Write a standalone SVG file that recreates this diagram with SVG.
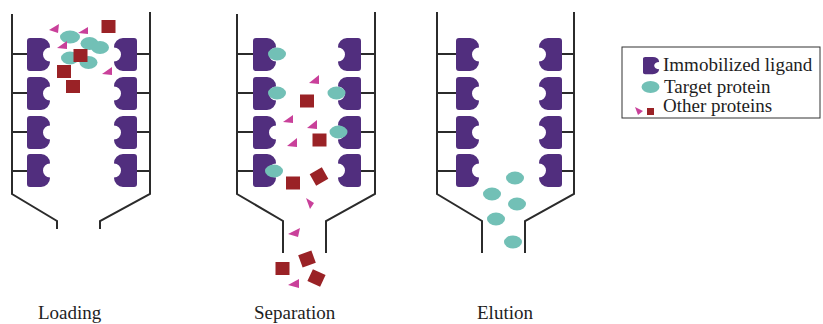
<svg xmlns="http://www.w3.org/2000/svg" xmlns:xlink="http://www.w3.org/1999/xlink" width="823" height="324" viewBox="0 0 823 324">
  <style>
    .wall { fill: none; stroke: #2b2b2b; stroke-width: 2; }
    .lig { fill: #512e7e; }
    .tgt { fill: #72c0b6; }
    .oth { fill: #9a2226; }
    .tri { fill: #c9409a; }
    .txt { font-family: "Liberation Serif", "Times New Roman", serif; font-size: 19px; fill: #1e1e1e; }
  </style>
  <defs>
    <!-- ligand with a round binding notch on its right side -->
    <path id="ligand" class="lig" d="M3,0 H14 A9,9 0 0 1 23,9 V9.5 A7,7 0 0 0 23,23.5 V24 A9,9 0 0 1 14,33 H3 A3,3 0 0 1 0,30 V3 A3,3 0 0 1 3,0 Z"/>
    <rect id="sq" class="oth" x="-7" y="-6.5" width="14" height="13"/>
  </defs>

  <!-- Loading column -->
  <g id="loading">
    <path class="wall" d="M12,14 V194 L57,221 V229 M150,12 V194 L100,221 V229 M12,54 H27 M12,93 H27 M12,132 H27 M12,171 H27 M137,54 H150 M137,93 H150 M137,132 H150 M137,171 H150"/>
    <use xlink:href="#ligand" transform="translate(27,38)"/>
    <use xlink:href="#ligand" transform="translate(27,77)"/>
    <use xlink:href="#ligand" transform="translate(27,116)"/>
    <use xlink:href="#ligand" transform="translate(27,154)"/>
    <use xlink:href="#ligand" transform="translate(137,38) scale(-1,1)"/>
    <use xlink:href="#ligand" transform="translate(137,77) scale(-1,1)"/>
    <use xlink:href="#ligand" transform="translate(137,116) scale(-1,1)"/>
    <use xlink:href="#ligand" transform="translate(137,154) scale(-1,1)"/>
    <ellipse class="tgt" cx="70" cy="37" rx="10" ry="6.5"/>
    <ellipse class="tgt" cx="89.5" cy="43.5" rx="9" ry="6.5"/>
    <ellipse class="tgt" cx="100" cy="47.5" rx="9" ry="6.5"/>
    <ellipse class="tgt" cx="70" cy="58" rx="9" ry="6.5"/>
    <ellipse class="tgt" cx="88.5" cy="62.5" rx="9" ry="6.5"/>
    <use xlink:href="#sq" transform="translate(108.5,26.5)"/>
    <use xlink:href="#sq" transform="translate(80.5,55.5)"/>
    <use xlink:href="#sq" transform="translate(64,71.5)"/>
    <use xlink:href="#sq" transform="translate(73,86.5)"/>
    <polygon class="tri" points="49,30 59,24 58,33"/>
    <polygon class="tri" points="78,33 88,27 88,34"/>
    <polygon class="tri" points="57,48 67,41 67,49"/>
    <polygon class="tri" points="102,74 112,67 112,75"/>
  </g>

  <!-- Separation column -->
  <g id="separation">
    <path class="wall" d="M237,14 V194 L283,221 V253 M375,12 V194 L326,221 V253 M237,54 H253 M237,93 H253 M237,132 H253 M237,171 H253 M361,54 H375 M361,93 H375 M361,132 H375 M361,171 H375"/>
    <use xlink:href="#ligand" transform="translate(253,38)"/>
    <use xlink:href="#ligand" transform="translate(253,77)"/>
    <use xlink:href="#ligand" transform="translate(253,116)"/>
    <use xlink:href="#ligand" transform="translate(253,154)"/>
    <use xlink:href="#ligand" transform="translate(361,38) scale(-1,1)"/>
    <use xlink:href="#ligand" transform="translate(361,77) scale(-1,1)"/>
    <use xlink:href="#ligand" transform="translate(361,116) scale(-1,1)"/>
    <use xlink:href="#ligand" transform="translate(361,154) scale(-1,1)"/>
    <ellipse class="tgt" cx="277" cy="54" rx="9" ry="6.5"/>
    <ellipse class="tgt" cx="277" cy="93" rx="9" ry="6.5"/>
    <ellipse class="tgt" cx="336.5" cy="93" rx="9" ry="6.5"/>
    <ellipse class="tgt" cx="338.5" cy="132" rx="9" ry="6.5"/>
    <ellipse class="tgt" cx="274" cy="171" rx="9" ry="6.5"/>
    <use xlink:href="#sq" transform="translate(307,101)"/>
    <use xlink:href="#sq" transform="translate(319.5,140)"/>
    <use xlink:href="#sq" transform="translate(293,183)"/>
    <use xlink:href="#sq" transform="translate(319,176.5) rotate(-30)"/>
    <use xlink:href="#sq" transform="translate(282.5,268.5)"/>
    <use xlink:href="#sq" transform="translate(307,259) rotate(-20)"/>
    <use xlink:href="#sq" transform="translate(316.5,278) rotate(25)"/>
    <polygon class="tri" points="309,83 319,75 319,84"/>
    <polygon class="tri" points="283,122 293,115 293,123"/>
    <polygon class="tri" points="307,128 317,120 317,129"/>
    <polygon class="tri" points="287,146 297,138 297,147"/>
    <polygon class="tri" points="306,198 314,203 310,209"/>
    <polygon class="tri" points="288,234 300,228 298,237"/>
    <polygon class="tri" points="288,285 299,279 299,288"/>
  </g>

  <!-- Elution column -->
  <g id="elution">
    <path class="wall" d="M437,12 V194 L482,221 V253 M574,12 V194 L525,221 V253 M437,54 H456 M437,93 H456 M437,132 H456 M437,171 H456 M562,54 H574 M562,93 H574 M562,132 H574 M562,171 H574"/>
    <use xlink:href="#ligand" transform="translate(456,38)"/>
    <use xlink:href="#ligand" transform="translate(456,77)"/>
    <use xlink:href="#ligand" transform="translate(456,116)"/>
    <use xlink:href="#ligand" transform="translate(456,154)"/>
    <use xlink:href="#ligand" transform="translate(562,38) scale(-1,1)"/>
    <use xlink:href="#ligand" transform="translate(562,77) scale(-1,1)"/>
    <use xlink:href="#ligand" transform="translate(562,116) scale(-1,1)"/>
    <use xlink:href="#ligand" transform="translate(562,154) scale(-1,1)"/>
    <ellipse class="tgt" cx="515" cy="178" rx="9" ry="6.5"/>
    <ellipse class="tgt" cx="492" cy="194" rx="9" ry="6.5"/>
    <ellipse class="tgt" cx="517" cy="204" rx="9" ry="6.5"/>
    <ellipse class="tgt" cx="496" cy="219" rx="9" ry="6.5"/>
    <ellipse class="tgt" cx="513" cy="242" rx="9" ry="6.5"/>
  </g>

  <!-- Legend -->
  <g id="legend">
    <rect x="622" y="47" width="198" height="71" fill="#fff" stroke="#333" stroke-width="1"/>
    <use xlink:href="#ligand" transform="translate(643,57) scale(0.7,0.52)"/>
    <ellipse class="tgt" cx="650.5" cy="87" rx="9" ry="6"/>
    <polygon class="tri" points="635,107 643,111 638,115"/>
    <rect class="oth" x="647" y="108" width="7" height="7"/>
    <text class="txt" x="663" y="71">Immobilized ligand</text>
    <text class="txt" x="664" y="93">Target protein</text>
    <text class="txt" x="663" y="112">Other proteins</text>
  </g>

  <!-- Stage labels -->
  <g id="labels">
    <text class="txt" x="38" y="319">Loading</text>
    <text class="txt" x="254" y="319">Separation</text>
    <text class="txt" x="477" y="319">Elution</text>
  </g>
</svg>
